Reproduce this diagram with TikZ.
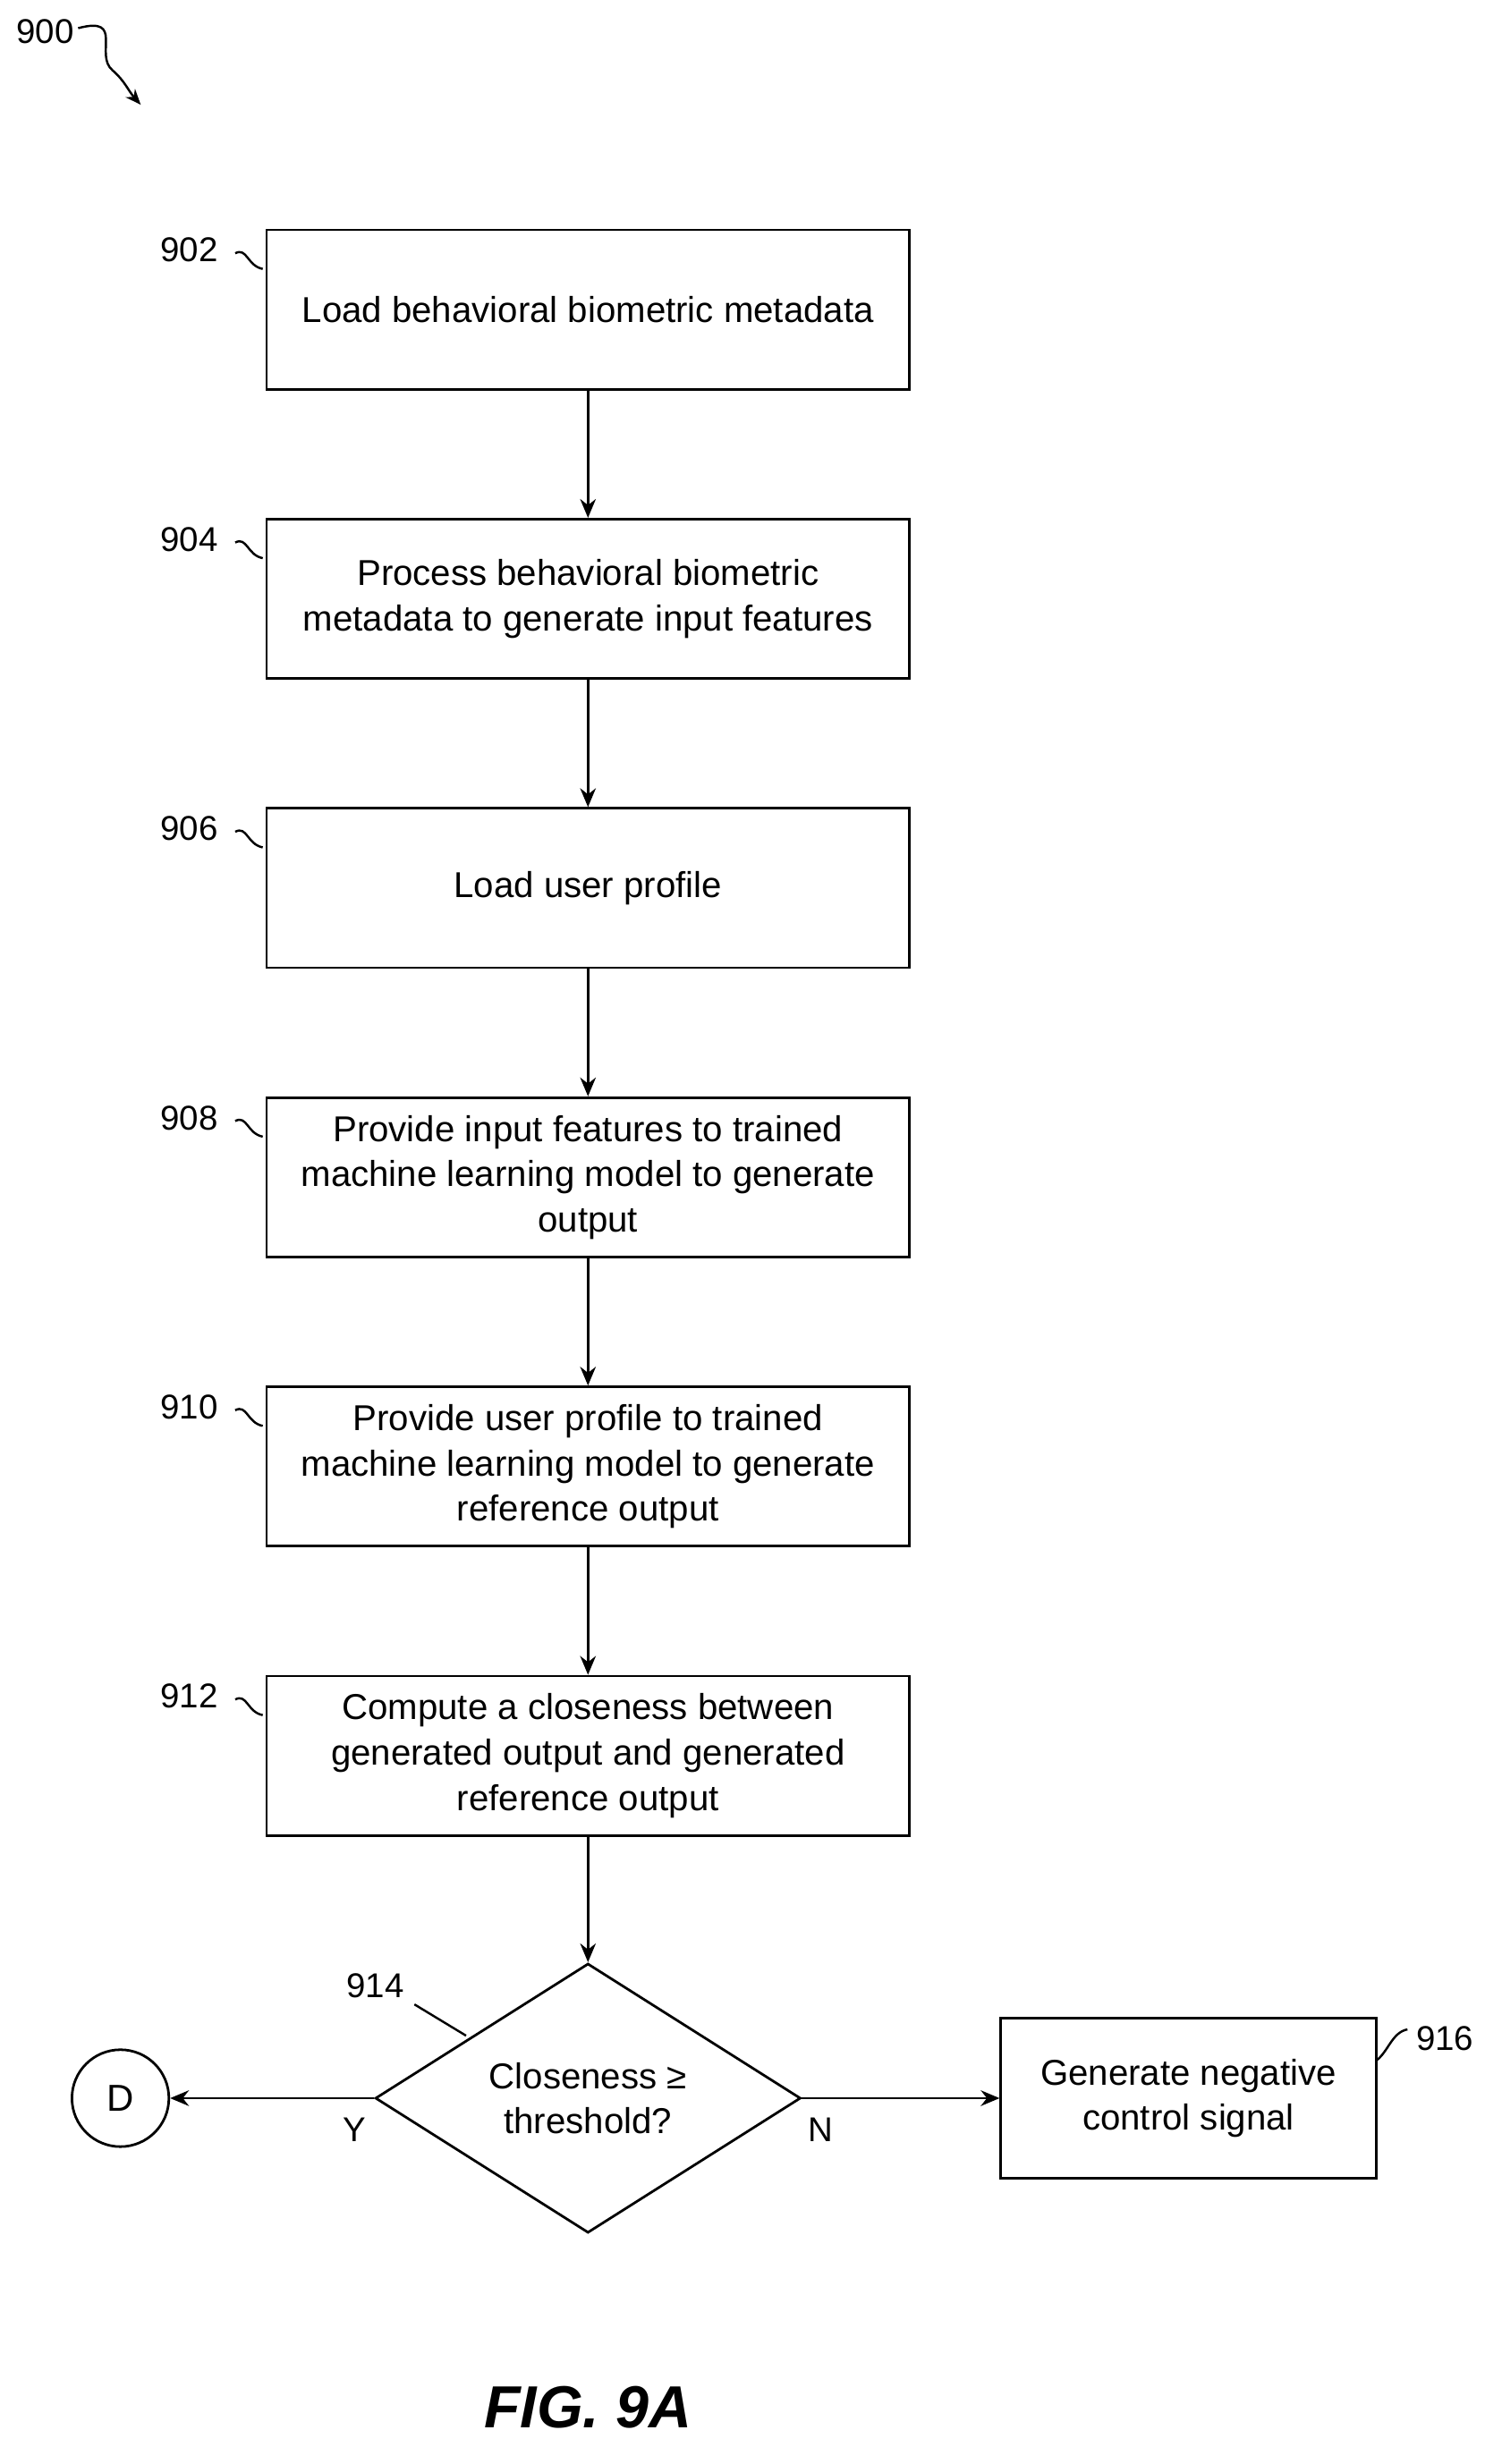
\documentclass[tikz,border=0pt]{standalone}
\usepackage{fontspec}
\setmainfont{Liberation Sans}
\usetikzlibrary{arrows.meta,shapes.geometric}
\begin{document}
\begin{tikzpicture}[x=0.5pt,y=-0.5pt,
  box/.style={draw,line width=0.8pt,minimum width=205.5pt,minimum height=51pt,align=center,font=\fontsize{11.5}{14.5}\selectfont,inner sep=2pt},
  arr/.style={-{Stealth[length=6pt,width=5pt]},line width=0.8pt},
  lbl/.style={font=\fontsize{11}{13}\selectfont},
  lead/.style={line width=0.7pt}]
\useasboundingbox (0,0) rectangle (960,1576);
\node[box] (b902) at (376,198) {Load behavioral biometric metadata};
\node[box] (b904) at (376,383) {Process behavioral biometric\\metadata to generate input features};
\node[box] (b906) at (376,568) {Load user profile};
\node[box] (b908) at (376,753) {Provide input features to trained\\machine learning model to generate\\output};
\node[box] (b910) at (376,938) {Provide user profile to trained\\machine learning model to generate\\reference output};
\node[box] (b912) at (376,1123) {Compute a closeness between\\generated output and generated\\reference output};
\node[draw,diamond,line width=0.8pt,minimum width=136pt,minimum height=85pt,inner sep=0pt,align=center,font=\fontsize{11.5}{14.5}\selectfont] (d914) at (376,1342) {Closeness ≥\\threshold?};
\node[draw,circle,line width=0.8pt,minimum size=31pt,inner sep=0pt,font=\fontsize{12}{14}\selectfont] (D) at (77,1342) {D};
\node[draw,line width=0.8pt,minimum width=120pt,minimum height=51pt,align=center,font=\fontsize{11.5}{14.5}\selectfont] (b916) at (760,1342) {Generate negative\\control signal};
\draw[arr] (b902) -- (b904);
\draw[arr] (b904) -- (b906);
\draw[arr] (b906) -- (b908);
\draw[arr] (b908) -- (b910);
\draw[arr] (b910) -- (b912);
\draw[arr] (b912) -- (d914);
\draw[arr] (d914.west) -- (D);
\draw[arr] (d914.east) -- (b916);
\node[lbl] (ly) at (227,1362) {Y};
\node[lbl] (ln) at (525,1362) {N};
\foreach \n/\y in {902/160,904/345,906/530,908/715,910/900,912/1085}{
  \node[lbl] (l\n) at (121,\y) {\n};
  \coordinate (c\n) at (168,\y+12);
  \draw[lead] (l\n.east) ++(4,2) .. controls (158,\y-2) and (158,\y+10) .. (c\n);
}
\node[lbl] (l914) at (240,1270) {914};
\coordinate (c914) at (298,1302);
\draw[lead] (265,1282) -- (c914);
\node[lbl] (l916) at (924,1304) {916};
\coordinate (c916) at (880,1318);
\draw[lead] (c916) .. controls (888,1312) and (890,1300) .. (900,1298);
\node[lbl] (l900) at (29,20) {900};
\coordinate (c900) at (90,67);
\draw[lead,-{Stealth[length=5pt,width=4pt]}] (50,18) .. controls (80,10) and (60,35) .. (72,45) .. controls (80,52) and (82,58) .. (c900);
\node[font=\fontsize{19}{22}\selectfont\bfseries\itshape] (fig) at (376,1540) {FIG. 9A};
\end{tikzpicture}
\end{document}
